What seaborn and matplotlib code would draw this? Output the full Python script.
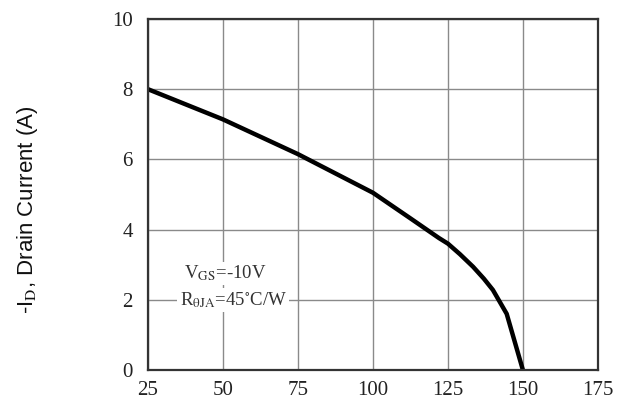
import matplotlib
matplotlib.use("Agg")
import matplotlib.pyplot as plt
import seaborn as sns
import pandas as pd

temp = [25, 50, 75, 87.5, 100, 112.5, 122, 125, 129, 133.4, 137, 140, 144.6, 150]
current = [8.0, 7.14, 6.15, 5.6, 5.05, 4.32, 3.76, 3.6, 3.3, 2.94, 2.6, 2.28, 1.6, 0.0]
xticks = [25, 50, 75, 100, 125, 150, 175]
yticks = [0, 2, 4, 6, 8, 10]

sns.set_theme(style="white")
plt.rcParams['font.family'] = ['Liberation Serif', 'DejaVu Serif']
plt.rcParams['mathtext.fontset'] = 'stix'

df = pd.DataFrame({"T": temp, "I": current})

fig = plt.figure(figsize=(6.28, 4.09), dpi=100)
ax = fig.add_axes([0.2357, 0.0954, 0.7163, 0.8581])
ax.set_xlim(25, 175)
ax.set_ylim(0, 10)
ax.set_xticks(xticks)
ax.set_yticks(yticks)
ax.grid(True, color="#8a8a8a", linewidth=1.0)
ax.set_axisbelow(True)
sns.lineplot(data=df, x="T", y="I", ax=ax, color="black", linewidth=3.2, sort=False)
ax.set_xlabel("")
ax.set_ylabel("")
for s in ax.spines.values():
    s.set_visible(True)
    s.set_color("#333333")
    s.set_linewidth(1.6)
ax.tick_params(axis="both", labelsize=15, colors="#333333", length=0)
ax.tick_params(axis="x", pad=8)
ax.tick_params(axis="y", pad=11)
for lab in ax.get_xticklabels() + ax.get_yticklabels():
    lab.set_color("#222222")

ax.text(37, 2.75, r"V$_{\mathrm{GS}}$=-10V", fontsize=13.5, color="#333333",
        ha="left", va="center",
        bbox=dict(facecolor="white", edgecolor="none", pad=1.5))
ax.text(35.5, 2.0, r"R$_{\mathrm{\theta JA}}$=45$^{\circ}$C/W", fontsize=13.5, color="#333333",
        ha="left", va="center",
        bbox=dict(facecolor="white", edgecolor="none", pad=1.5))

fig.text(0.043, 0.487, r"-I$_{\mathrm{D}}$, Drain Current (A)", rotation=90,
         ha="center", va="center", fontsize=16, color="#111111",
         family=["Liberation Sans", "DejaVu Sans"])

fig.savefig("out.png", dpi=100)
